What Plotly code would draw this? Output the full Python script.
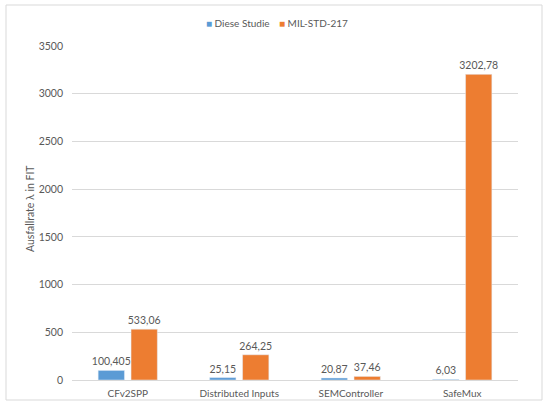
import plotly.graph_objects as go

categories = ["CFv2SPP", "Distributed Inputs", "SEMController", "SafeMux"]
diese_studie = [100.405, 25.15, 20.87, 6.03]
mil_std_217 = [533.06, 264.25, 37.46, 3202.78]
y_ticks = [0, 500, 1000, 1500, 2000, 2500, 3000, 3500]
series_names = ["Diese Studie", "MIL-STD-217"]
series_colors = ["#5b9bd5", "#ed7d31"]

def fmt(v):
    return str(v).replace(".", ",")

FONT = "Lato"
GRAY = "#595959"

fig = go.Figure()
for name, vals, col in zip(series_names, [diese_studie, mil_std_217], series_colors):
    fig.add_trace(go.Bar(
        name=name, x=categories, y=vals,
        marker=dict(color=col),
        text=[fmt(v) for v in vals], textposition="outside",
        textfont=dict(size=10.5, color=GRAY, family=FONT), cliponaxis=False,
        constraintext="none", showlegend=False, hoverinfo="skip",
    ))

# legend drawn as annotations (small squares like the original)
legend_x = [204, 277]
for name, col, lx in zip(series_names, series_colors, legend_x):
    fig.add_annotation(
        xref="paper", yref="paper", x=(lx - 72) / 446, y=(380 - 23) / 334,
        xanchor="left", yanchor="middle", showarrow=False,
        text=f"<span style='color:{col}'>■</span> {name}",
        font=dict(size=10, color=GRAY, family=FONT),
    )

# y-axis title
fig.add_annotation(
    xref="paper", yref="paper", x=(30 - 72) / 446, y=(380 - 209) / 334,
    xanchor="center", yanchor="middle", showarrow=False, textangle=-90,
    text="Ausfallrate λ in FIT", font=dict(size=10.5, color=GRAY, family=FONT),
)

fig.update_layout(
    width=544, height=405,
    margin=dict(l=72, r=26, t=46, b=25, autoexpand=False),
    paper_bgcolor="white", plot_bgcolor="white",
    barmode="group", bargap=0.41, bargroupgap=0.2,
    font=dict(family=FONT, size=10, color=GRAY),
    showlegend=False,
    xaxis=dict(showgrid=False, showline=True, linecolor="#d9d9d9", linewidth=1,
               ticks="", tickfont=dict(size=10, color=GRAY), automargin=False,
               ticklabelstandoff=4),
    yaxis=dict(range=[0, 3500], tickvals=y_ticks, showgrid=True, gridcolor="#d9d9d9",
               zeroline=False, showline=False, ticks="", ticklen=0, automargin=False,
               tickfont=dict(size=10.5, color=GRAY), ticklabelstandoff=8),
    shapes=[dict(type="rect", xref="paper", yref="paper",
                 x0=(6 - 72) / 446, x1=(542 - 72) / 446,
                 y0=(380 - 400) / 334, y1=(380 - 5) / 334,
                 line=dict(color="#d9d9d9", width=1), fillcolor="rgba(0,0,0,0)", layer="below")],
)

fig.write_html("out.html", config={"displayModeBar": False},
               post_script="document.body.style.margin='0px';")
